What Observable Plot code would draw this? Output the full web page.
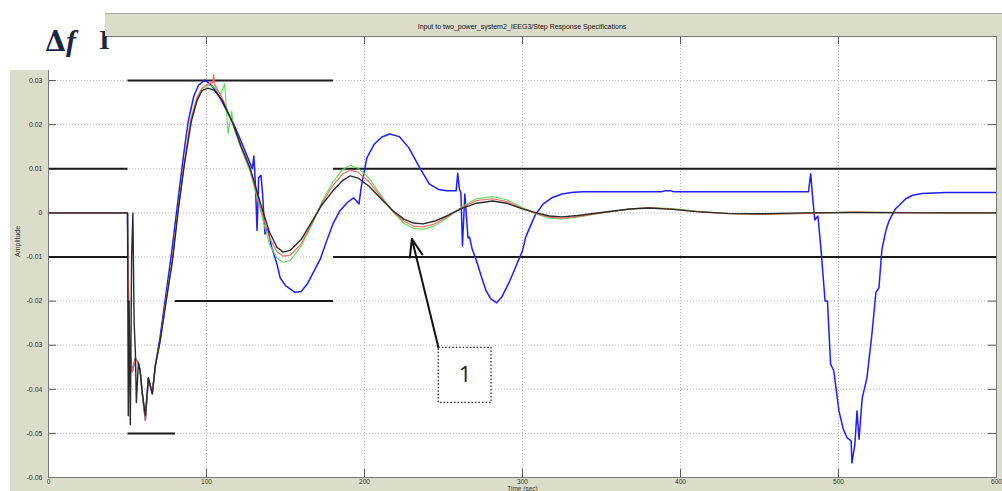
<!DOCTYPE html>
<html><head><meta charset="utf-8">
<script src="https://cdn.jsdelivr.net/npm/d3@7"></script>
<script src="https://cdn.jsdelivr.net/npm/@observablehq/plot@0.6"></script>
<style>
html,body{margin:0;padding:0;background:#fff;}
#wrap{position:relative;width:1002px;height:491px;overflow:hidden;background:#fff;font-family:"Liberation Sans",Arial,sans-serif;}
.grey{position:absolute;background:#dcdccb;}
#titlebar{left:105px;top:13px;width:897px;height:22px;border-top:1px solid #a8a8a0;font-size:7px;color:#111;text-align:center;line-height:26px;}
#titlebar span{position:absolute;left:0;width:834px;text-align:center;}
#df{position:absolute;left:45px;top:24px;font-family:"DejaVu Serif",serif;font-size:27px;color:#1c2444;}
#df b{font-weight:bold;}
#df i{font-style:italic;font-weight:bold;font-family:"Liberation Serif",serif;font-size:30px;}
#ii{position:absolute;left:99px;top:24px;font-family:"Liberation Serif",serif;font-weight:bold;font-size:28px;color:#1c2444;}
</style></head><body>
<div id="wrap">
  <div class="grey" style="left:10px;top:70px;width:38px;height:421px"></div>
  <div class="grey" style="left:10px;top:477px;width:992px;height:14px"></div>
  <div class="grey" style="left:996px;top:13px;width:6px;height:478px"></div>
  <div id="plot" style="position:absolute;left:0;top:0"></div>
  <div style="position:absolute;left:0;top:0;width:105px;height:70px;background:#fff"></div>
  <div id="df"><b>Δ</b><i>f</i></div><div id="ii">I</div>
  <div class="grey" id="titlebar"><span>Input to two_power_system2_IEEG3/Step Response Specifications</span></div>
</div>
<script>
// ---- data ----
const xTicks = [0, 100, 200, 300, 400, 500, 600];
const yTicks = [-0.06, -0.05, -0.04, -0.03, -0.02, -0.01, 0, 0.01, 0.02, 0.03];

// step response specification bounds: [t1, t2, value]
const specBounds = [
  [0, 50, 0.01], [0, 50, -0.01], [50, 180, 0.03], [180, 600, 0.01],
  [180, 600, -0.01], [80, 180, -0.02], [50, 80, -0.05]
];

const black = [[0,0],[50,0],[50.5,-0.046],[51,-0.02],[51.8,-0.048],[52.6,-0.01],[53.4,0],[54.2,-0.025],[55,-0.0317],[55.6,-0.043],[56.9,-0.034],[58,-0.0358],[59.4,-0.041],[61.3,-0.046],[63.2,-0.0374],[65.7,-0.041],[67.6,-0.0347],[70.7,-0.029],[74.5,-0.02],[78.3,-0.0113],[82.1,0.0005],[86,0.011],[90.5,0.0209],[94,0.0255],[97.3,0.0278],[101,0.0283],[105,0.0278],[110,0.0255],[113,0.0232],[117,0.02],[122,0.015],[127.6,0.0102],[132,0.0048],[136,0],[140,-0.0045],[144.6,-0.0078],[148.5,-0.0089],[153,-0.0085],[160,-0.006],[167,-0.0018],[173,0.0018],[180,0.005],[186,0.0073],[191,0.0084],[196,0.0079],[203,0.006],[210,0.0034],[218,0.0005],[225,-0.0014],[231,-0.0023],[237,-0.0025],[244,-0.0019],[252,-0.0007],[262,0.0011],[271,0.0022],[281,0.0027],[290,0.0022],[300,0.0009],[309,0],[317,-0.0007],[325,-0.0009],[335,-0.0006],[350,0.0001],[368,0.0009],[380,0.0011],[395,0.0008],[410,0.0003],[430,-0.0001],[450,-0.0002],[480,0],[510,0.0001],[540,0],[570,0],[600,0]];

const red = [[0,0],[50,0],[51,-0.03],[53,-0.036],[55,-0.033],[56.9,-0.034],[58,-0.0358],[59.4,-0.041],[61.3,-0.047],[63.2,-0.0374],[65.7,-0.041],[67.6,-0.0347],[70.7,-0.029],[74.5,-0.0195],[78.3,-0.0108],[82.1,0.001],[86,0.0115],[90,0.0212],[94,0.0262],[97.3,0.0284],[101,0.0292],[104,0.0296],[104.5,0.0315],[105,0.0292],[110,0.026],[117,0.02],[122,0.0148],[127.6,0.0098],[132,0.004],[136,-0.001],[140,-0.0058],[144.6,-0.0088],[148.5,-0.0098],[153,-0.0096],[160,-0.007],[167,-0.0022],[173,0.0022],[180,0.0062],[186,0.0088],[191,0.0097],[196,0.0092],[203,0.007],[210,0.0038],[218,0.0003],[225,-0.0019],[231,-0.003],[237,-0.0032],[244,-0.0025],[252,-0.001],[262,0.0013],[271,0.0028],[281,0.0032],[290,0.0026],[300,0.001],[309,-0.0002],[317,-0.001],[325,-0.0012],[335,-0.0008],[350,0],[368,0.0009],[380,0.0012],[395,0.0009],[410,0.0003],[430,-0.0002],[450,-0.0003],[480,-0.0001],[510,0.0002],[540,0.0001],[570,0],[600,0]];

const green = [[0,0],[50,0],[51,-0.03],[53,-0.036],[55,-0.033],[56.9,-0.034],[58,-0.036],[59.4,-0.041],[61.3,-0.047],[63.2,-0.0374],[65.7,-0.041],[67.6,-0.0347],[70.7,-0.029],[74.5,-0.0195],[78.3,-0.0108],[82.1,0.001],[86,0.0113],[90,0.021],[94,0.026],[97.3,0.0282],[101,0.029],[105,0.0285],[109,0.0268],[111.5,0.0293],[112.5,0.024],[113.7,0.018],[115,0.021],[116,0.023],[117,0.0195],[122,0.0145],[127.6,0.0094],[132,0.0035],[136,-0.002],[140,-0.0072],[144.6,-0.0103],[148.5,-0.0112],[153,-0.0108],[160,-0.0075],[167,-0.0025],[173,0.0025],[180,0.007],[186,0.0098],[191,0.0108],[196,0.0101],[203,0.0078],[210,0.0042],[218,0.0002],[225,-0.0024],[231,-0.0035],[237,-0.0037],[244,-0.003],[252,-0.0012],[262,0.0015],[271,0.0032],[281,0.0037],[290,0.003],[300,0.0012],[309,-0.0003],[317,-0.0012],[325,-0.0014],[335,-0.001],[350,0],[368,0.0009],[380,0.0012],[395,0.001],[410,0.0004],[430,-0.0002],[450,-0.0003],[480,-0.0001],[510,0.0002],[540,0.0001],[570,0],[600,0]];

const blue = [[0,0],[50,0],[51,-0.03],[53,-0.036],[55,-0.033],[56.9,-0.034],[58,-0.0358],[59.4,-0.041],[61.3,-0.047],[63.2,-0.0374],[65.7,-0.041],[67.6,-0.0347],[70.7,-0.028],[74.5,-0.018],[78.3,-0.008],[82,0.003],[86,0.0145],[88.5,0.0209],[92,0.0265],[95,0.029],[99,0.0301],[103,0.029],[108,0.0265],[113,0.0231],[117,0.0204],[121,0.017],[125,0.0135],[129,0.01],[130,0.0129],[131,0.006],[132,-0.004],[133,0.008],[134.5,0.0085],[135.5,0.0043],[137,-0.0048],[138,-0.0035],[139,-0.004],[141,-0.0075],[144.6,-0.0116],[146.6,-0.0147],[150,-0.0165],[156,-0.018],[160,-0.0178],[164,-0.016],[167,-0.0139],[172,-0.0105],[176,-0.0064],[180,-0.0025],[184.5,0.0005],[189,0.0023],[193,0.0034],[195,0.0027],[196.5,0.002],[198,0.006],[201.5,0.0125],[206,0.0155],[211,0.0172],[216,0.0179],[222,0.0173],[228,0.0148],[235,0.0102],[241,0.0066],[247,0.0053],[252,0.005],[258,0.005],[259,0.009],[260,0.0055],[261,0.0045],[262,-0.0075],[263.5,0.0043],[265.5,-0.0057],[266.5,-0.0055],[268,-0.008],[271,-0.011],[274,-0.0145],[277,-0.0177],[280,-0.0195],[283.6,-0.0204],[287,-0.019],[292,-0.0154],[296,-0.012],[300,-0.0086],[302,-0.0055],[304.5,-0.0034],[308,-0.0005],[313,0.002],[319,0.0035],[325,0.0043],[331,0.0046],[338,0.0048],[388,0.0048],[390,0.005],[394,0.005],[396,0.0048],[481,0.0048],[482.4,0.0089],[483.5,0.004],[485,-0.0016],[487,-0.0007],[489,-0.0086],[491.5,-0.02],[493,-0.02],[495,-0.0343],[497,-0.0358],[500.3,-0.0449],[503,-0.049],[505.4,-0.051],[508,-0.0517],[508.5,-0.0567],[510.4,-0.0524],[511.7,-0.0449],[513,-0.0513],[515,-0.042],[518,-0.0374],[521,-0.028],[523.7,-0.018],[525.6,-0.017],[527.5,-0.0082],[530,-0.004],[532,-0.0018],[536,0.0009],[542.6,0.0032],[547,0.004],[552.7,0.0044],[568,0.0046],[600,0.0046]];

// annotation: arrow from label box to the responses, box with label "1"
const arrowFrom = [247, -0.0308];
const arrowTo = [230, -0.0059];
const labelBox = [247, 280.4, -0.0306, -0.0431];
const labelText = "1";

// ---- chart ----
const seriesOrder = [["blue", blue, "#1e1eff", 1.5], ["green", green, "#52e052", 1.1], ["red", red, "#ff5c5c", 1.1], ["black", black, "#2a2a2a", 1.4]];
const lineMarks = seriesOrder.map(([name, pts, col, w]) =>
  Plot.line(pts, {x: d => d[0], y: d => d[1], stroke: col, strokeWidth: w, strokeLinejoin: "round"}));

const W = 1002, H = 491, mL = 48, mR = 6, mT = 36, mB = 14;
const tickLen = 8;
const innerW = W - mL - mR, innerH = H - mT - mB;
const fmt = d => { const s = String(+d.toFixed(2)); return s === "-0" ? "0" : s; };

const chart = Plot.plot({
  width: W, height: H,
  marginLeft: mL, marginRight: mR, marginTop: mT, marginBottom: mB,
  style: {background: "transparent", color: "#333", fontFamily: "'Liberation Sans', Arial, sans-serif", fontSize: "7px", overflow: "visible"},
  x: {domain: [0, 600], label: null},
  y: {domain: [-0.06, 0.04], label: null},
  marks: [
    Plot.frame({fill: "white", stroke: "none"}),
    Plot.gridX(xTicks, {stroke: "#b4b4b4", strokeOpacity: 1, strokeDasharray: "1,2"}),
    Plot.gridY(yTicks, {stroke: "#b4b4b4", strokeOpacity: 1, strokeDasharray: "1,2"}),
    Plot.ruleX(xTicks, {x: d => d, insetTop: innerH - tickLen, stroke: "#555"}),
    Plot.ruleX(xTicks, {x: d => d, insetBottom: innerH - tickLen, stroke: "#555"}),
    Plot.ruleY(yTicks, {y: d => d, insetRight: innerW - tickLen, stroke: "#555"}),
    Plot.ruleY(yTicks, {y: d => d, insetLeft: innerW - tickLen, stroke: "#555"}),
    Plot.axisX(xTicks, {tickSize: 0, tickPadding: 2, tickFormat: d => String(d), fontSize: 6.5, label: null}),
    Plot.axisY(yTicks, {tickSize: 0, tickPadding: 6, tickFormat: fmt, fontSize: 7, label: null}),
    Plot.link(specBounds, {x1: d => d[0], x2: d => d[1], y1: d => d[2], y2: d => d[2], stroke: "#1a1a1a", strokeWidth: 2}),
    ...lineMarks,
    Plot.arrow([[arrowFrom, arrowTo]], {x1: d => d[0][0], y1: d => d[0][1], x2: d => d[1][0], y2: d => d[1][1], stroke: "#111", strokeWidth: 2, headLength: 14, headAngle: 40}),
    Plot.rect([labelBox], {x1: d => d[0], x2: d => d[1], y1: d => d[2], y2: d => d[3], fill: "white", stroke: "#222", strokeWidth: 1.3, strokeDasharray: "1.5,2"}),
    Plot.text([labelBox], {x: d => (d[0] + d[1]) / 2, y: d => (d[2] + d[3]) / 2, text: () => labelText, fontSize: 22, fill: "#222", fontFamily: "'Open Sans', sans-serif"}),
    Plot.text(["Amplitude"], {text: d => d, frameAnchor: "left", dx: -31, rotate: -90, fontSize: 7}),
    Plot.text(["Time (sec)"], {text: d => d, frameAnchor: "bottom", dy: 13.5, fontSize: 6.5}),
    Plot.frame({stroke: "#777"})
  ]
});
document.getElementById("plot").appendChild(chart);
</script>
</body></html>
